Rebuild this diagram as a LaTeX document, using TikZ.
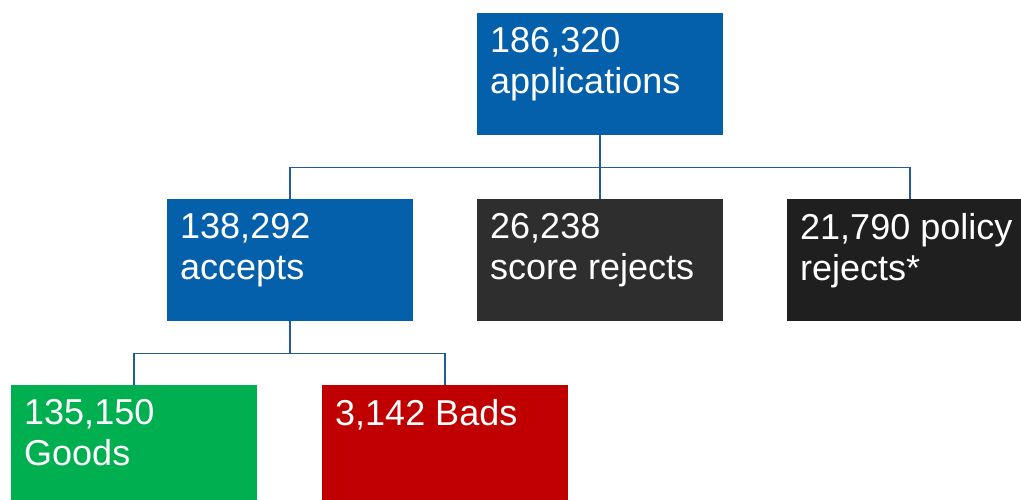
\documentclass[tikz,border=0pt]{standalone}
\usepackage{fontspec}
\setmainfont{Liberation Sans}
\definecolor{appblue}{HTML}{0560AC}
\definecolor{linkblue}{HTML}{1F5C99}
\definecolor{scoregray}{HTML}{2E2E2E}
\definecolor{policygray}{HTML}{1F1F1F}
\definecolor{goodgreen}{HTML}{00B050}
\definecolor{badred}{HTML}{C00000}
\newcommand{\boxtext}[1]{\parbox[t][93pt][t]{220pt}{\raggedright #1}}

\begin{document}
\begin{tikzpicture}[x=1pt, y=-1pt,
  box/.style={anchor=north west, inner xsep=13pt, inner ysep=14.5pt, text=white,
    font=\fontsize{36}{41}\selectfont},
  link/.style={draw=linkblue, line width=1.6pt}]
\clip (0,0) rectangle (1021,499);
\fill[white] (0,0) rectangle (1021,499);
\node[box, fill=appblue] (app) at (477,12.5) {\boxtext{186,320\\applications}};
\node[box, fill=appblue] (acc) at (167,199) {\boxtext{138,292\\accepts}};
\node[box, fill=scoregray] (score) at (477,199) {\boxtext{26,238\\score rejects}};
\node[box, fill=policygray] (policy) at (787,199) {\boxtext{21,790 policy\\rejects*}};
\node[box, fill=goodgreen] (good) at (11,385) {\boxtext{135,150\\Goods}};
\node[box, fill=badred] (bad) at (322,385) {\boxtext{3,142 Bads}};
\draw[link] (app.south) -- (score.north);
\draw[link] (app.south) -- ++(0,32.5) -| (acc.north);
\draw[link] (app.south) -- ++(0,32.5) -| (policy.north);
\draw[link] (acc.south) -- ++(0,32) -| (good.north);
\draw[link] (acc.south) -- ++(0,32) -| (bad.north);
\end{tikzpicture}
\end{document}
